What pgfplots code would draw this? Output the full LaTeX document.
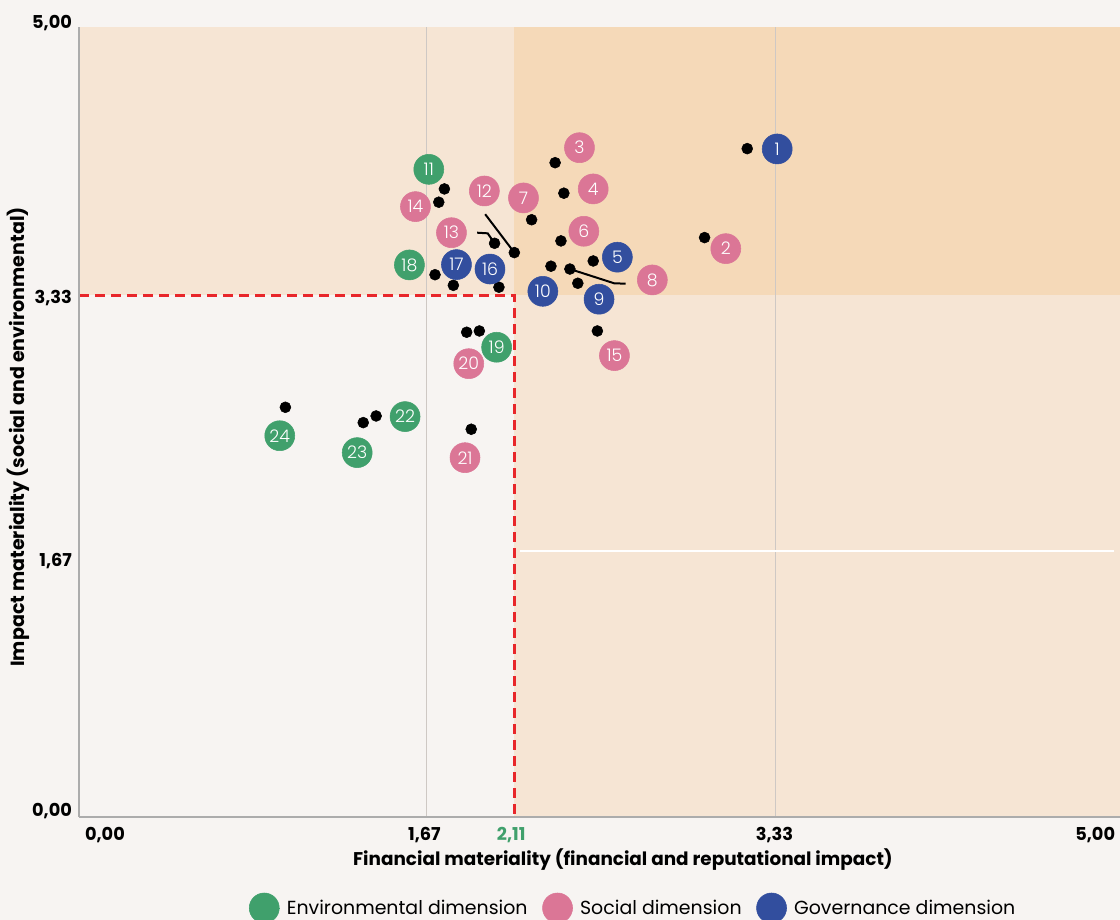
\documentclass[border=0pt]{standalone}
\usepackage{pgfplots}
\pgfplotsset{compat=1.18}
\usepackage{pgfplotstable}
\usepackage{fontspec}
\setmainfont{Poppins}
\newfontfamily\numfont{Poppins Light}

\definecolor{bgc}{RGB}{247,244,242}
\definecolor{peachL}{RGB}{246,229,212}
\definecolor{peachD}{RGB}{245,217,184}
\definecolor{envc}{RGB}{64,160,108}
\definecolor{socc}{RGB}{219,118,150}
\definecolor{govc}{RGB}{50,78,158}
\definecolor{gridc}{RGB}{206,200,196}
\definecolor{axc}{RGB}{172,172,172}
\definecolor{thr}{RGB}{232,38,42}

% measured points (black dots)
\pgfplotstableread{
x y
3.209 4.228
2.286 4.139
2.328 3.946
1.754 3.973
1.727 3.889
2.173 3.778
2.314 3.644
3.004 3.665
1.995 3.629
2.090 3.570
2.469 3.517
2.266 3.484
2.357 3.466
2.395 3.376
1.709 3.430
1.797 3.363
2.016 3.351
1.861 3.066
1.922 3.074
2.489 3.074
0.990 2.591
1.364 2.494
1.426 2.536
1.883 2.452
}\dotstab

% numbered labels
\pgfplotstableread{
x y n
1.679 4.097 11
1.586 3.492 18
2.005 2.971 19
1.565 2.532 22
1.335 2.304 23
0.963 2.411 24
}\envlab

\pgfplotstableread{
x y n
3.106 3.595 2
2.403 4.234 3
2.469 3.973 4
2.424 3.705 6
2.134 3.916 7
2.753 3.397 8
1.946 3.960 12
1.788 3.696 13
1.615 3.861 14
2.571 2.918 15
1.871 2.867 20
1.853 2.272 21
}\soclab

\pgfplotstableread{
x y n
3.353 4.226 1
2.585 3.541 5
2.497 3.275 9
2.227 3.325 10
1.973 3.466 16
1.812 3.494 17
}\govlab

\pgfplotsset{
  numlabel/.style={only marks, mark=*, mark size=11.25pt, forget plot,
    point meta=explicit symbolic, nodes near coords,
    nodes near coords align={center},
    every node near coord/.append style={text=white, inner sep=0pt,
      font=\numfont\fontsize{13}{13}\selectfont}},
}

\begin{document}
\begin{tikzpicture}
\fill[bgc] (-59.5pt,-77.5pt) rectangle (780.5pt,612.5pt);
\path[use as bounding box] (-59.5pt,-77.5pt) rectangle (780.5pt,612.5pt);
\begin{axis}[
  at={(0pt,0pt)}, anchor=south west,
  scale only axis, width=780.5pt, height=592.5pt,
  xmin=0, xmax=5, ymin=0, ymax=5,
  axis x line*=bottom, axis y line*=left,
  axis line style={draw=axc, line width=1.5pt, -},
  xtick=\empty, ytick=\empty,
  clip=false, axis on top,
  xlabel={Financial materiality (financial and reputational impact)},
  ylabel={Impact materiality (social and environmental)},
  xlabel style={font=\bfseries\fontsize{13.8}{16}\selectfont,
    at={(axis description cs:0.5224,-0.0548)}, anchor=center},
  ylabel style={font=\bfseries\fontsize{14.3}{16}\selectfont,
    at={(axis description cs:-0.0589,0.4806)}, anchor=center},
  legend style={at={(axis description cs:0.5325,-0.1156)}, anchor=center,
    draw=none, fill=none, legend columns=3,
    font=\fontsize{14.2}{16}\selectfont,
    /tikz/every odd column/.append style={column sep=3pt},
    /tikz/every even column/.append style={column sep=9pt}},
  legend image code/.code={\fill[#1] (11.25pt,0pt) circle (11.25pt); \path (0pt,0pt) -- (23pt,0pt);},
]
% quadrant shading
\fill[peachL] (axis cs:2.09,0) rectangle (axis cs:5,5);
\fill[peachL] (axis cs:0,3.30) rectangle (axis cs:2.09,5);
\fill[peachD] (axis cs:2.09,3.30) rectangle (axis cs:5,5);

% grid
\addplot[gridc, line width=1pt, forget plot] coordinates {(1.667,0) (1.667,5)};
\addplot[gridc, line width=1pt, forget plot] coordinates {(3.345,0) (3.345,5)};
\addplot[white, line width=1.2pt, forget plot] coordinates {(2.115,1.68) (4.97,1.68)};

% threshold
\addplot[thr, line width=2pt, dash pattern=on 7.5pt off 4.5pt, forget plot] coordinates {(0,3.30) (2.09,3.30) (2.09,0)};

% leader lines
\addplot[black, line width=1.5pt, forget plot] coordinates {(2.090,3.570) (1.950,3.813)};
\addplot[black, line width=1.5pt, forget plot] coordinates {(1.995,3.629) (1.962,3.692) (1.911,3.696)};
\addplot[black, line width=1.5pt, forget plot] coordinates {(2.357,3.466) (2.569,3.376) (2.625,3.373)};

% points
\addplot[only marks, mark=*, mark size=4.1pt, black, forget plot] table[x=x, y=y] {\dotstab};

% labels
\addplot[numlabel, envc] table[x=x, y=y, meta=n] {\envlab};
\addplot[numlabel, socc] table[x=x, y=y, meta=n] {\soclab};
\addplot[numlabel, govc] table[x=x, y=y, meta=n] {\govlab};

\addlegendimage{only marks, mark=*, envc}
\addlegendentry{Environmental dimension}
\addlegendimage{only marks, mark=*, socc}
\addlegendentry{Social dimension}
\addlegendimage{only marks, mark=*, govc}
\addlegendentry{Governance dimension}

% tick labels
\begin{scope}[font=\bfseries\fontsize{13.3}{15}\selectfont]
\node[anchor=base, yshift=-18pt] at (axis cs:0.123,0) {0,00};
\node[anchor=base, yshift=-18pt] at (axis cs:1.658,0) {1,67};
\node[anchor=base, yshift=-18pt, text=envc] at (axis cs:2.075,0) {2,11};
\node[anchor=base, yshift=-18pt] at (axis cs:3.34,0) {3,33};
\node[anchor=base, yshift=-18pt] at (axis cs:4.881,0) {5,00};
\node[anchor=base east, xshift=-2pt] at (axis cs:0,4.99) {5,00};
\node[anchor=base east, xshift=-2pt] at (axis cs:0,3.245) {3,33};
\node[anchor=base east, xshift=-2pt] at (axis cs:0,1.582) {1,67};
\node[anchor=base east, xshift=-2pt] at (axis cs:0,0.0) {0,00};
\end{scope}
\end{axis}
\end{tikzpicture}
\end{document}
